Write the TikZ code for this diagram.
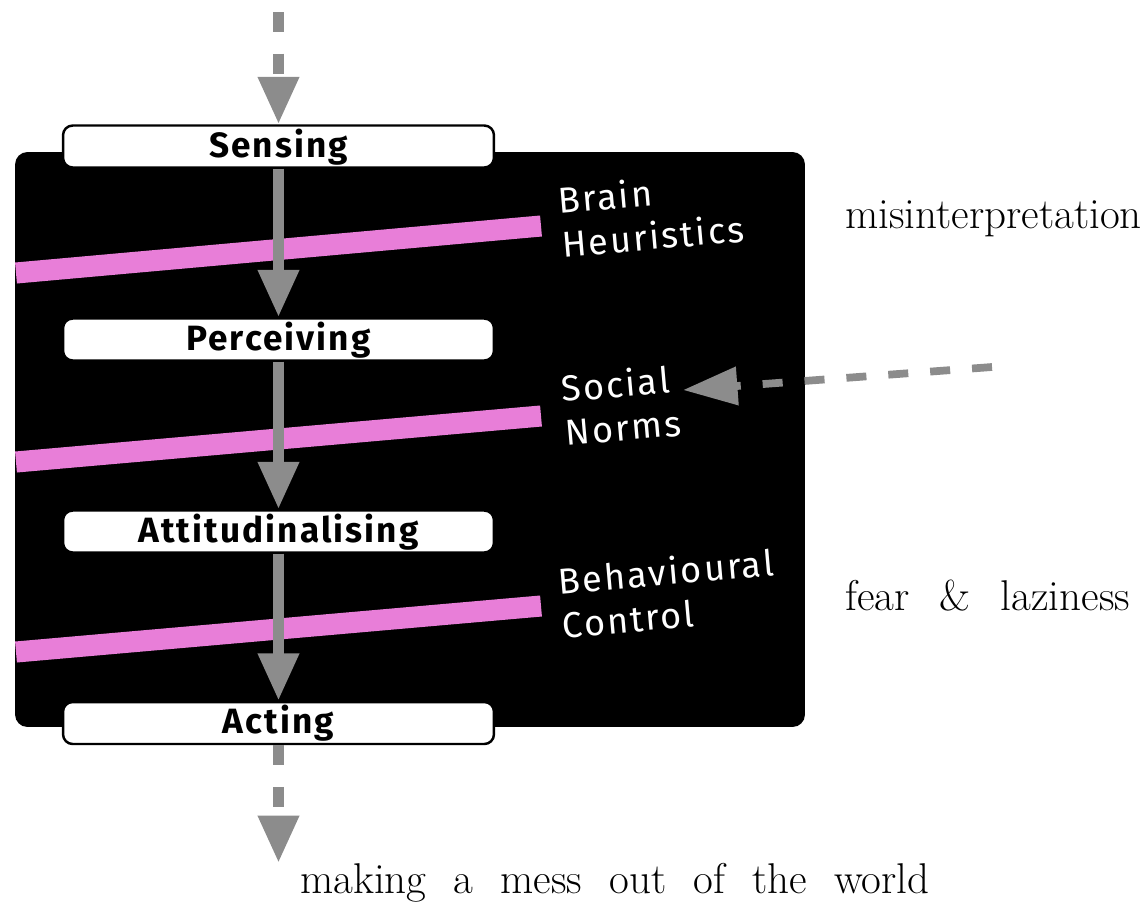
\documentclass[tikz,border=0pt]{standalone}
\usepackage{fontspec}
\newfontfamily\boxfont[LetterSpace=6]{Fira Sans}
\newcommand\widesp{\spaceskip=0.7em plus 0.1em\relax}
\newcommand\midsp{\spaceskip=0.63em plus 0.1em\relax}
\usetikzlibrary{arrows.meta}
\definecolor{pinkband}{RGB}{232,126,216}
\definecolor{arrowgray}{RGB}{140,140,140}
\begin{document}
\begin{tikzpicture}[x=0.02cm,y=-0.02cm,
  stage/.style={draw=black, line width=1.4pt, fill=white, rounded corners=5.5pt,
    minimum width=8.62cm, minimum height=0.84cm, inner sep=0pt,
    text height=14pt, text depth=2pt,
    font=\boxfont\bfseries\fontsize{20}{24}\selectfont},
  factor/.style={text=white, align=left, inner sep=0pt, rotate=5,
    font=\boxfont\fontsize{20.5}{25}\selectfont},
  remark/.style={inner sep=0pt, anchor=base west,
    font=\fontsize{24.5}{28}\selectfont},
  band/.style={draw=pinkband, line width=12pt},
  flow/.style={draw=arrowgray, line width=6.2pt, -{Triangle[length=27pt,width=22pt]}},
  flowdash/.style={flow, dash pattern=on 11.4pt off 12.3pt},
  sidedash/.style={draw=arrowgray, line width=4.4pt, dash pattern=on 11.4pt off 12.5pt,
    -{Triangle[length=31pt,width=21pt]}}
]
\useasboundingbox (0,0) rectangle (1142,907);
% panel
\node[fill=black, rounded corners=7pt, minimum width=15.8cm, minimum height=11.5cm, inner sep=0pt]
  (panel) at (410,439.5) {};
% bands
\draw[band] (16,273) -- (541,226);
\draw[band] (16,462) -- (541,416);
\draw[band] (16,652) -- (541,606);
% stages
\node[stage] (sense) at (278.5,146.5) {Sensing};
\node[stage] (perc) at (278.5,339.5) {Perceiving};
\node[stage] (att) at (278.5,531.5) {Attitudinalising};
\node[stage] (act) at (278.5,723) {Acting};
% factor labels
\node[factor] (brain) at (651,214) {Brain\\Heuristics};
\node[factor] (social) at (621,405) {Social\\Norms};
\node[factor] (behav) at (668,593) {Behavioural\\Control};
% remarks
\node[remark] (mis) at (845,228) {misinterpretation};
\node[remark] (fear) at (845,610) {\widesp fear \& laziness};
\node[remark] (mess) at (300,893) {\midsp making a mess out of the world};
% coordinates
\coordinate (topin) at (278.5,12);
\coordinate (botout) at (278.5,863);
\coordinate (sidein) at (992,367);
\coordinate (sidetip) at (683,390);
% arrows
\draw[flowdash] (topin) -- (sense.north);
\draw[flow] (sense.south) -- (perc.north);
\draw[flow] (perc.south) -- (att.north);
\draw[flow] (att.south) -- (act.north);
\draw[flowdash] (act.south) -- (botout);
\draw[sidedash] (sidein) -- (sidetip);
\end{tikzpicture}
\end{document}
